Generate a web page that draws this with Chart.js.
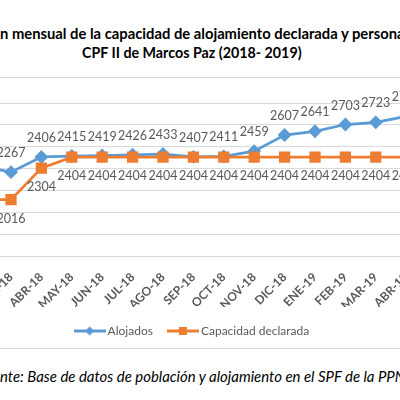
<!DOCTYPE html>
<html><head><meta charset="utf-8">
<script src="https://cdn.jsdelivr.net/npm/chart.js@4"></script>
<style>
html,body{margin:0;padding:0;width:400px;height:400px;overflow:hidden;background:#fff;}
body{position:relative;}
.t{position:absolute;white-space:nowrap;font-family:Lato;font-weight:bold;color:#000;line-height:20px;}
#box{position:absolute;left:-60px;top:77px;width:520px;height:272px;border:1px solid #d9d9d9;box-sizing:border-box;}
#src{position:absolute;white-space:nowrap;font-family:Lato;font-style:italic;color:#000;line-height:20px;top:365px;}
</style></head>
<body>
<div class="t" id="t1">Evolución mensual de la capacidad de alojamiento declarada y personas alojadas en el</div>
<div class="t" id="t2">CPF II de Marcos Paz (2018- 2019)</div>
<div id="box"><canvas id="c"></canvas></div>
<div id="src">Fuente: Base de datos de población y alojamiento en el SPF de la PPN.</div>
<script>
const categories = ['FEB-18','MAR-18','ABR-18','MAY-18','JUN-18','JUL-18','AGO-18','SEP-18','OCT-18','NOV-18','DIC-18','ENE-19','FEB-19','MAR-19','ABR-19'];
const alojados   = [2322, 2267, 2406, 2415, 2419, 2426, 2433, 2407, 2411, 2459, 2607, 2641, 2703, 2723, 2778];
const capacidad  = [2016, 2016, 2304, 2404, 2404, 2404, 2404, 2404, 2404, 2404, 2404, 2404, 2404, 2404, 2404];
const seriesNames = ['Alojados', 'Capacidad declarada'];
const yMin = 1500, yMax = 2900, yStep = 200;

const BLUE = '#5B9BD5', ORANGE = '#ED7D31', GRAY = '#595959';

// text placement (title / source note are page text around the chart)
function textW(txt, font){ const g=document.createElement('canvas').getContext('2d'); g.font=font; return g.measureText(txt).width; }
const t1 = document.getElementById('t1');
const s1 = 14 * 398 / textW('n mensual de la capacidad de alojamiento declarada y person', 'bold 14px Lato');
t1.style.fontSize = s1 + 'px';
t1.style.left = (-textW('Evolució', 'bold ' + s1 + 'px Lato')) + 'px'; t1.style.top = '23px';
const t2 = document.getElementById('t2');
const s2 = 14 * 220 / textW(t2.textContent, 'bold 14px Lato');
t2.style.fontSize = s2 + 'px';
t2.style.left = (192 - 110) + 'px'; t2.style.top = '43px';
const src = document.getElementById('src');
const s3 = 14 * 396 / textW('nte: Base de datos de población y alojamiento en el SPF de la PP', 'italic 14px Lato');
src.style.fontSize = s3 + 'px';
src.style.left = (-textW('Fue', 'italic ' + s3 + 'px Lato')) + 'px';
src.style.top = '366px';

function legendImg(color, shape){
  const c = document.createElement('canvas'); c.width = 32; c.height = 12;
  const g = c.getContext('2d');
  g.strokeStyle = color; g.lineWidth = 3;
  g.beginPath(); g.moveTo(0,6); g.lineTo(32,6); g.stroke();
  g.fillStyle = color;
  if (shape === 'diamond') { g.beginPath(); g.moveTo(11.5,6); g.lineTo(16,1.5); g.lineTo(20.5,6); g.lineTo(16,10.5); g.closePath(); g.fill(); }
  else { g.fillRect(12,2,8,8); }
  return c;
}
const legendImgs = [legendImg(BLUE,'diamond'), legendImg(ORANGE,'square')];

const valueLabels = {
  id: 'valueLabels',
  afterDatasetsDraw(chart){
    const ctx = chart.ctx;
    ctx.save();
    ctx.font = '12.5px Lato'; ctx.fillStyle = GRAY; ctx.textAlign = 'center'; ctx.textBaseline = 'middle';
    chart.data.datasets.forEach((ds, di) => {
      const meta = chart.getDatasetMeta(di);
      const dy = di === 0 ? -19 : 19;
      meta.data.forEach((pt, i) => ctx.fillText(String(ds.data[i]), pt.x, pt.y + dy));
    });
    ctx.restore();
  }
};

new Chart(document.getElementById('c'), {
  type: 'line',
  data: {
    labels: categories,
    datasets: [
      { label: seriesNames[0], data: alojados, borderColor: BLUE, backgroundColor: BLUE, borderWidth: 2.75,
        pointStyle: 'rectRot', pointRadius: 5, pointBackgroundColor: BLUE, pointBorderColor: BLUE, tension: 0, order: 1 },
      { label: seriesNames[1], data: capacidad, borderColor: ORANGE, backgroundColor: ORANGE, borderWidth: 2.75,
        pointStyle: 'rect', pointRadius: 6, pointBackgroundColor: ORANGE, pointBorderColor: ORANGE, tension: 0, order: 0 }
    ]
  },
  options: {
    responsive: true, maintainAspectRatio: false, animation: false,
    layout: { padding: { left: 24.4, right: 37.6, top: 25, bottom: 1 } },
    plugins: {
      tooltip: { enabled: false },
      legend: {
        position: 'bottom',
        labels: {
          usePointStyle: true, pointStyleWidth: 24, padding: 18, color: GRAY,
          font: { family: 'Lato', size: 12 },
          sort: (a, b) => a.datasetIndex - b.datasetIndex,
          generateLabels(chart){
            const items = Chart.defaults.plugins.legend.labels.generateLabels(chart);
            items.forEach(it => { it.pointStyle = legendImgs[it.datasetIndex]; });
            return items;
          }
        }
      }
    },
    scales: {
      x: {
        offset: true,
        grid: { display: false }, border: { display: false },
        ticks: { color: GRAY, font: { family: 'Lato', size: 12, weight: 'bold' }, minRotation: 45, maxRotation: 45, autoSkip: false, padding: 6 },
        afterFit(s){ s.paddingLeft = 0; s.paddingRight = 0; s.height = 51; }
      },
      y: {
        min: yMin, max: yMax,
        ticks: { stepSize: yStep, display: false },
        grid: { color: '#d9d9d9', drawTicks: false, lineWidth: 1 },
        border: { display: false },
        afterFit(s){ s.width = 0; }
      }
    }
  },
  plugins: [valueLabels]
});
</script>
</body></html>
